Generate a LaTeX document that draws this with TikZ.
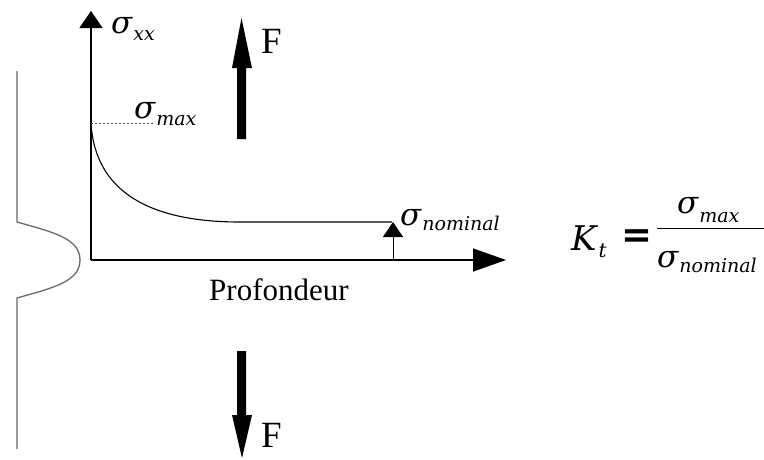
\documentclass[tikz,border=0pt]{standalone}
\usepackage{fontspec}
\setmainfont{Liberation Serif}
\newfontfamily\lblfont{DejaVu Serif}
\newfontfamily\eqfont{DejaVu Sans}
\usetikzlibrary{arrows.meta}
\newcommand\bigsig{{\fontsize{31}{31}\selectfont\lblfont\itshape σ}}
\newcommand\subtxt[2][-7pt]{\kern1pt\raisebox{#1}{\fontsize{19}{19}\selectfont\lblfont\itshape #2}}
\begin{document}
\begin{tikzpicture}[x=1pt,y=-1pt,
  axis/.style={line width=1.4pt,black},
  thin curve/.style={line width=1.1pt,black},
  part/.style={line width=1.3pt,draw={rgb,255:red,105;green,105;blue,105}},
  lbl/.style={inner sep=0pt,anchor=base west},
  force/.style={fill=black}]
\useasboundingbox (0,0) rectangle (764,459);

% specimen outline with notch
\draw[part] (17,71) -- (17,222) .. controls (52,232) and (80,238) .. (80,260)
  .. controls (80,282) and (52,288) .. (17,298) -- (17,449);

% axes
\coordinate (O) at (91,260);
\coordinate (ytip) at (91,11);
\coordinate (xtip) at (506,260);
\draw[axis,-{Triangle[length=17pt,width=23pt]}] (O) -- (ytip);
\draw[axis,-{Triangle[length=33pt,width=23pt]}] (O) -- (xtip);

% stress curve
\coordinate (smax) at (91,123);
\coordinate (knee) at (240,222);
\coordinate (nomend) at (392,222);
\draw[thin curve] (smax) .. controls (95,192) and (150,222) .. (knee) -- (nomend);
\draw[line width=0.8pt,dash pattern=on 2pt off 2pt,black!70] (smax) -- (153,123);

% nominal arrow
\coordinate (nbase) at (393,260);
\coordinate (ntip) at (393,222);
\draw[line width=1pt,-{Triangle[length=15pt,width=20pt]}] (nbase) -- (ntip);

% forces
\fill[force] (237,139) -- (246,139) -- (246,68) -- (252,68) -- (241.5,18) -- (232,68) -- (237,68) -- cycle;
\fill[force] (237,351) -- (246,351) -- (246,415) -- (252,415) -- (242,458) -- (232,415) -- (237,415) -- cycle;
\node[lbl,font=\fontsize{37}{37}\selectfont] (Ftop) at (261,53) {F};
\node[lbl,font=\fontsize{37}{37}\selectfont] (Fbot) at (261,447) {F};

% labels
\node[lbl] (sxx) at (111,33) {\bigsig\subtxt{xx}};
\node[lbl] (smaxl) at (134,118) {\bigsig\subtxt{max}};
\node[lbl] (snom) at (400,225) {\bigsig\subtxt[-5pt]{nominal}};
\node[lbl,font=\fontsize{31}{31}\selectfont] (prof) at (209,300) {Profondeur};

% formula
\node[lbl] (K) at (571,250) {{\fontsize{34}{34}\selectfont\lblfont\itshape K}\kern2pt\raisebox{-7pt}{\fontsize{20}{20}\selectfont\lblfont\itshape t}};
\node[inner sep=0pt] (eq) at (636.5,239) {\fontsize{37}{37}\selectfont\eqfont\bfseries =};
\draw[line width=1pt] (657,228) -- (764,228);
\node[lbl] (num) at (677,213) {\bigsig\subtxt[-9pt]{max}};
\node[lbl] (den) at (657,267) {\bigsig\subtxt[-5pt]{nominal}};
\end{tikzpicture}
\end{document}
